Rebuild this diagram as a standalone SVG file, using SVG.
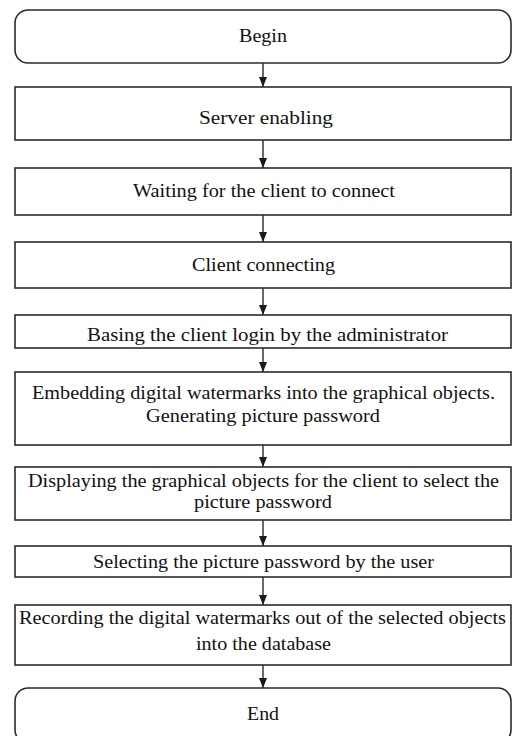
<svg xmlns="http://www.w3.org/2000/svg" width="514" height="736" viewBox="0 0 514 736">
  <defs>
    <marker id="arrow" viewBox="0 0 10 8" refX="10" refY="4" markerWidth="10" markerHeight="8" markerUnits="userSpaceOnUse" orient="auto">
      <path d="M0,0 L10,4 L0,8 Z" fill="#1a1a1a"/>
    </marker>
  </defs>
  <style>
    .box { fill: #ffffff; stroke: #2b2b2b; stroke-width: 1.6; }
    .lbl { font-family: "Liberation Serif", "Times New Roman", serif; font-size: 18px; fill: #111111; }
    .conn { stroke: #1a1a1a; stroke-width: 1.3; fill: none; marker-end: url(#arrow); }
  </style>
  <rect width="514" height="736" fill="#ffffff"/>

  <g id="connectors">
    <line class="conn" x1="263" y1="63" x2="263" y2="87"/>
    <line class="conn" x1="263" y1="140" x2="263" y2="168"/>
    <line class="conn" x1="263" y1="215" x2="263" y2="242"/>
    <line class="conn" x1="263" y1="288" x2="263" y2="315"/>
    <line class="conn" x1="263" y1="348" x2="263" y2="372"/>
    <line class="conn" x1="263" y1="445" x2="263" y2="467"/>
    <line class="conn" x1="263" y1="520" x2="263" y2="546"/>
    <line class="conn" x1="263" y1="577" x2="263" y2="605"/>
    <line class="conn" x1="263" y1="665" x2="263" y2="688"/>
  </g>

  <g id="begin">
    <rect class="box" x="15" y="10" width="496" height="53" rx="13" ry="13"/>
    <text class="lbl" x="239" y="41.7" textLength="48" lengthAdjust="spacingAndGlyphs">Begin</text>
  </g>
  <g id="server-enabling">
    <rect class="box" x="15" y="87" width="496" height="53"/>
    <text class="lbl" x="199" y="123.5" textLength="134" lengthAdjust="spacingAndGlyphs">Server enabling</text>
  </g>
  <g id="waiting">
    <rect class="box" x="15" y="168" width="496" height="47"/>
    <text class="lbl" x="133" y="197" textLength="262" lengthAdjust="spacingAndGlyphs">Waiting for the client to connect</text>
  </g>
  <g id="client-connecting">
    <rect class="box" x="15" y="242" width="496" height="46"/>
    <text class="lbl" x="192" y="270.7" textLength="143" lengthAdjust="spacingAndGlyphs">Client connecting</text>
  </g>
  <g id="login">
    <rect class="box" x="15" y="315" width="496" height="33"/>
    <text class="lbl" x="87" y="340.5" textLength="361" lengthAdjust="spacingAndGlyphs">Basing the client login by the administrator</text>
  </g>
  <g id="embedding">
    <rect class="box" x="15" y="372" width="496" height="73"/>
    <text class="lbl" x="32" y="399" textLength="463" lengthAdjust="spacingAndGlyphs">Embedding digital watermarks into the graphical objects.</text>
    <text class="lbl" x="146" y="421.5" textLength="234" lengthAdjust="spacingAndGlyphs">Generating picture password</text>
  </g>
  <g id="displaying">
    <rect class="box" x="15" y="467" width="496" height="53"/>
    <text class="lbl" x="28" y="487" textLength="471" lengthAdjust="spacingAndGlyphs">Displaying the graphical objects for the client to select the</text>
    <text class="lbl" x="194" y="507.5" textLength="138" lengthAdjust="spacingAndGlyphs">picture password</text>
  </g>
  <g id="selecting">
    <rect class="box" x="15" y="546" width="496" height="31"/>
    <text class="lbl" x="93" y="568" textLength="341" lengthAdjust="spacingAndGlyphs">Selecting the picture password by the user</text>
  </g>
  <g id="recording">
    <rect class="box" x="15" y="605" width="496" height="60"/>
    <text class="lbl" x="19" y="623.5" textLength="487" lengthAdjust="spacingAndGlyphs">Recording the digital watermarks out of the selected objects</text>
    <text class="lbl" x="196" y="650" textLength="135" lengthAdjust="spacingAndGlyphs">into the database</text>
  </g>
  <g id="end">
    <rect class="box" x="15" y="688" width="496" height="55" rx="13" ry="13"/>
    <text class="lbl" x="247" y="720" textLength="32" lengthAdjust="spacingAndGlyphs">End</text>
  </g>
</svg>
